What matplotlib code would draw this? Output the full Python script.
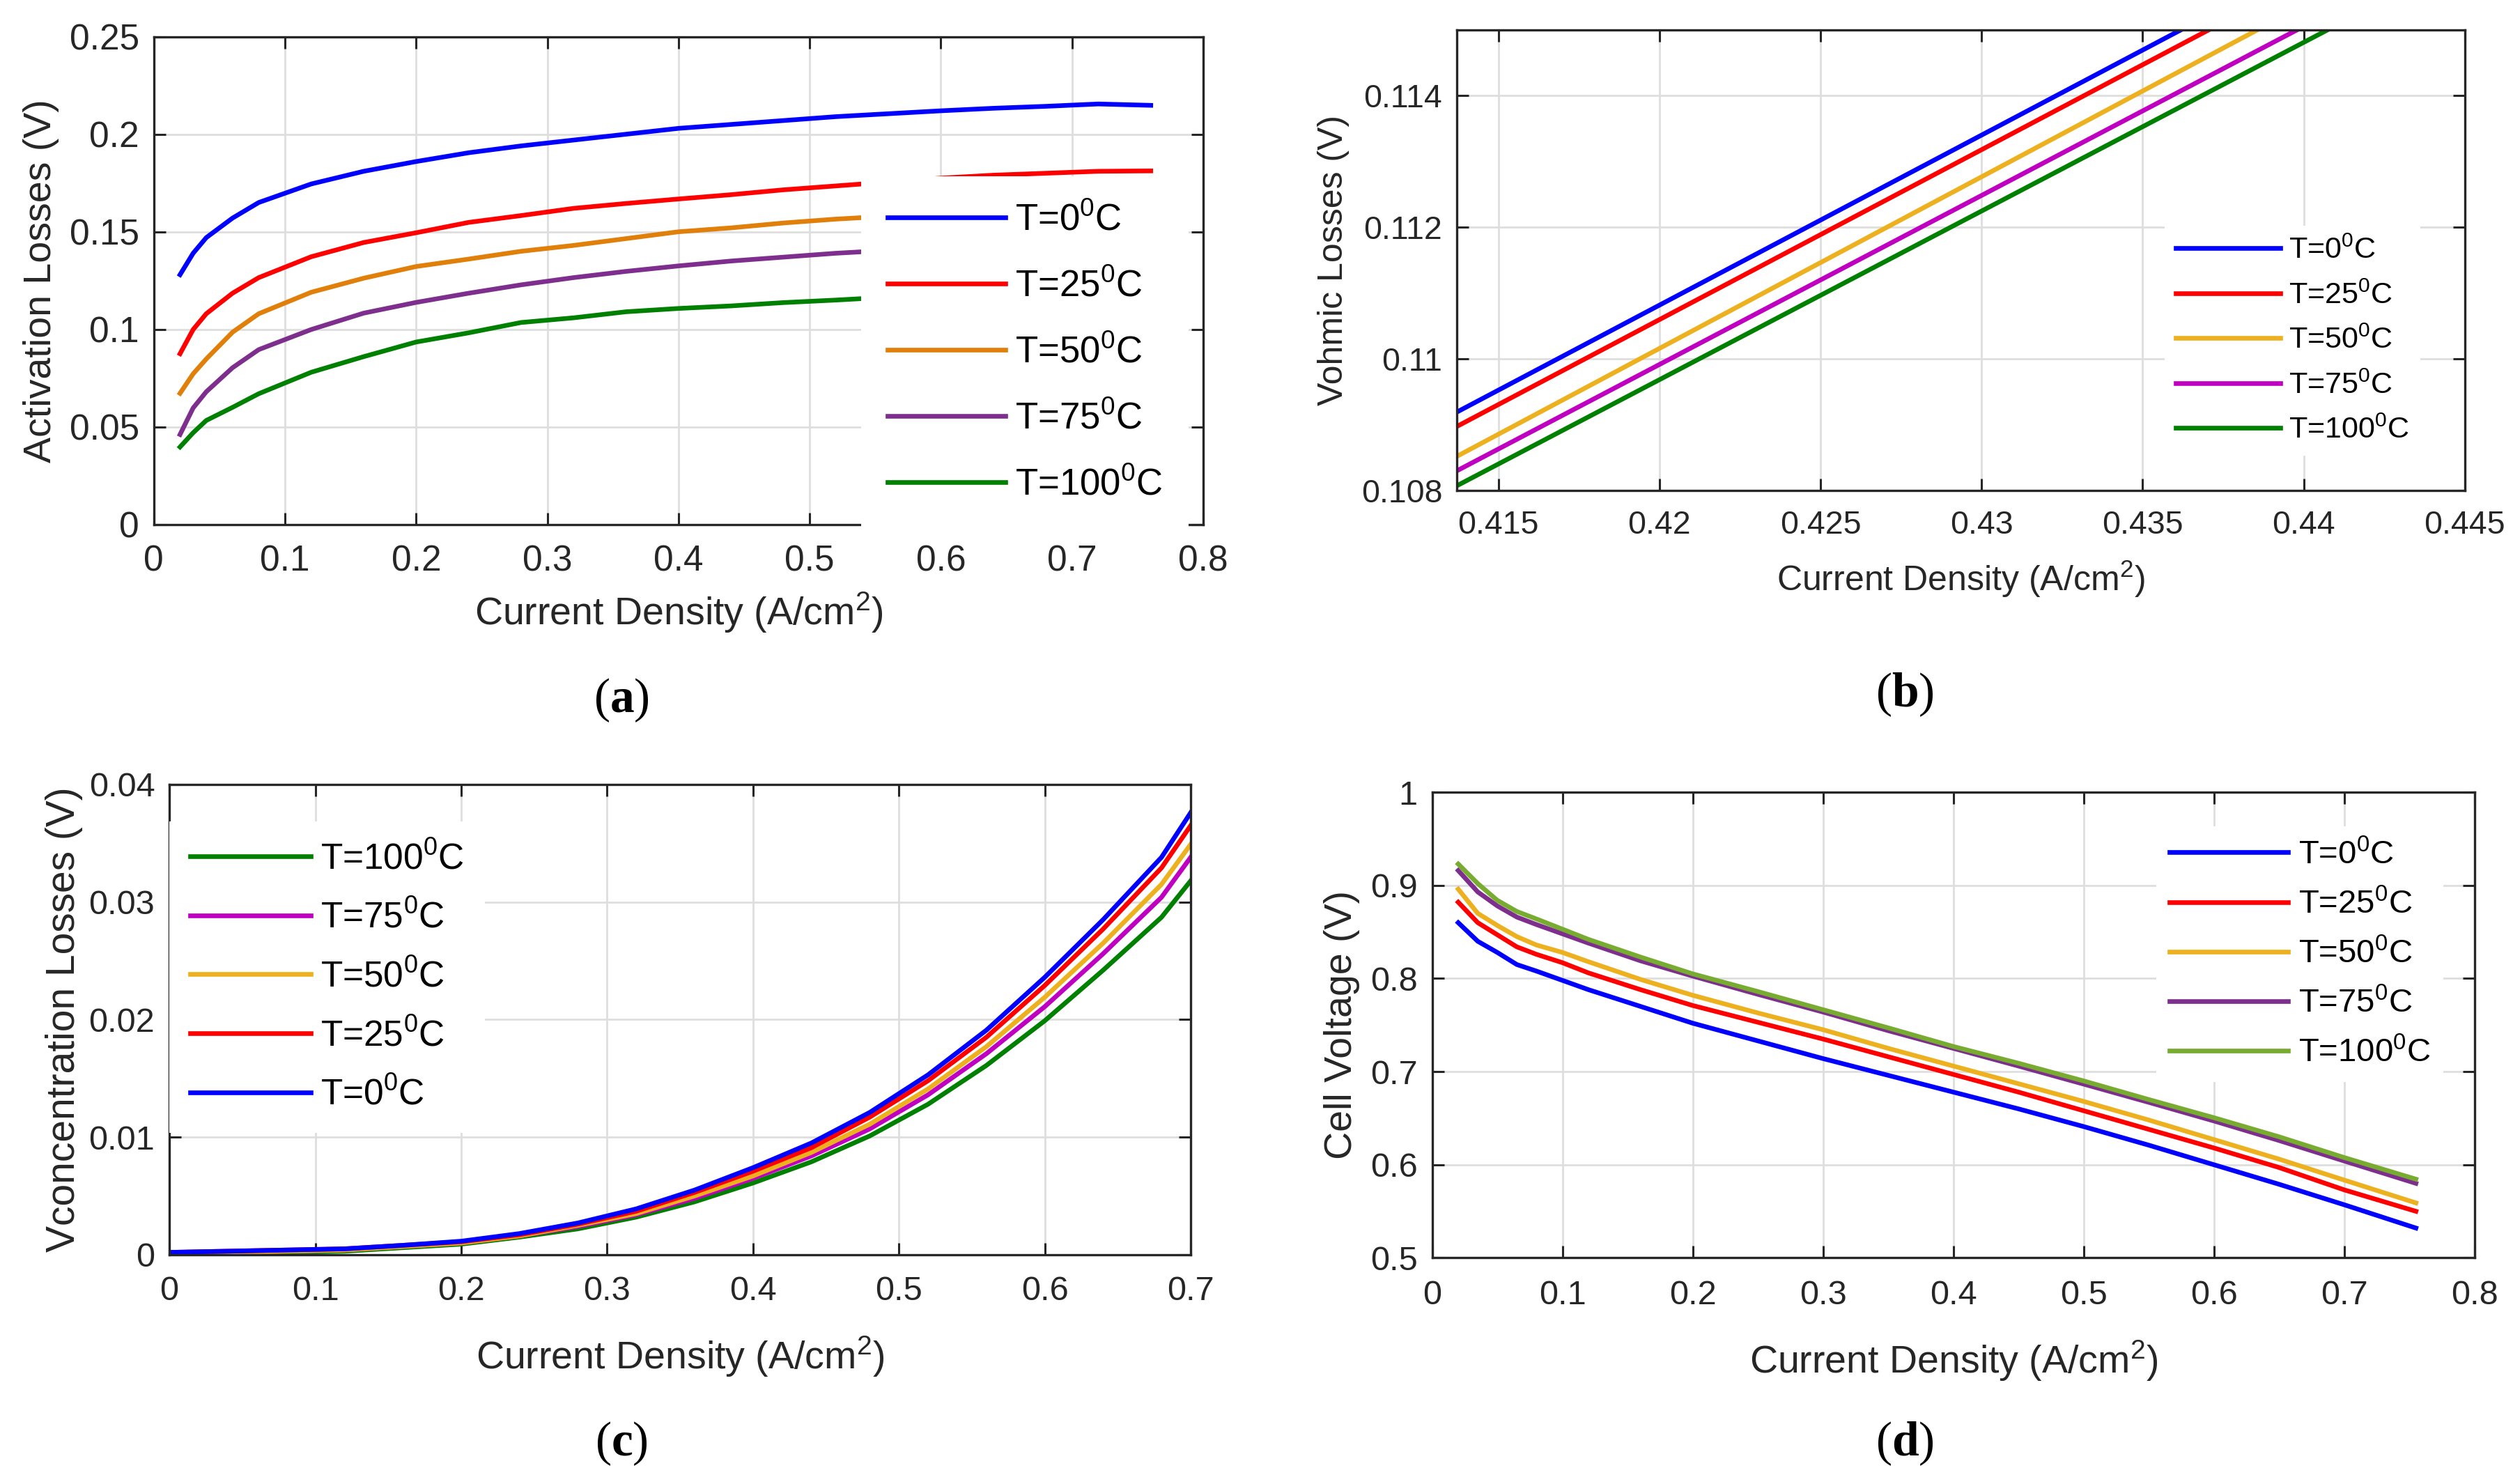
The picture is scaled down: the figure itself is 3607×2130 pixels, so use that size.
import numpy as np
import matplotlib
matplotlib.use("Agg")
import matplotlib.pyplot as plt
from matplotlib.ticker import FormatStrFormatter

plt.rcParams['font.family'] = ['Liberation Sans', 'DejaVu Sans']
plt.rcParams['mathtext.fontset'] = 'custom'
plt.rcParams['mathtext.rm'] = 'Liberation Sans'
plt.rcParams['mathtext.it'] = 'Liberation Sans:italic'
plt.rcParams['mathtext.bf'] = 'Liberation Serif:bold'

# ---------------- data ----------------
temps = ["0", "25", "50", "75", "100"]
labels = [r"T=%s$^\mathrm{0}$C" % t for t in temps]

# (a) activation losses
xa = [0.02, 0.03, 0.04, 0.06, 0.08, 0.12, 0.16, 0.2, 0.24, 0.28, 0.32, 0.36,
      0.4, 0.44, 0.48, 0.52, 0.56, 0.6, 0.64, 0.68, 0.72, 0.76]
act_T0 = [0.128, 0.139, 0.147, 0.157, 0.165, 0.1745, 0.181, 0.186, 0.1905, 0.194, 0.197,
          0.200, 0.203, 0.205, 0.207, 0.209, 0.2105, 0.212, 0.2133, 0.2143, 0.2155, 0.2148]
act_T25 = [0.0875, 0.0999, 0.108, 0.1185, 0.1265, 0.1372, 0.1445, 0.1495, 0.1548, 0.1583, 0.162,
           0.1645, 0.1668, 0.169, 0.1715, 0.1735, 0.1755, 0.1775, 0.179, 0.180, 0.181, 0.1812]
act_T50 = [0.0672, 0.0772, 0.0848, 0.0985, 0.108, 0.119, 0.1262, 0.1322, 0.136, 0.140, 0.143,
           0.1465, 0.150, 0.152, 0.1545, 0.1565, 0.158, 0.160, 0.1615, 0.163, 0.1645, 0.1655]
act_T75 = [0.0461, 0.0597, 0.068, 0.0803, 0.0896, 0.0999, 0.1083, 0.1138, 0.1185, 0.1228, 0.1265,
           0.1297, 0.1325, 0.135, 0.137, 0.139, 0.1405, 0.142, 0.1435, 0.145, 0.146, 0.147]
act_T100 = [0.0397, 0.047, 0.0533, 0.060, 0.067, 0.078, 0.086, 0.0935, 0.0982, 0.1035, 0.1059,
            0.109, 0.1107, 0.112, 0.1137, 0.115, 0.1165, 0.118, 0.119, 0.120, 0.121, 0.122]

# (b) ohmic losses (zoomed window)
xb = [0.41, 0.42, 0.43, 0.44, 0.45]
ohm_T0 = [0.108232, 0.110816, 0.113400, 0.115984, 0.118568]
ohm_T25 = [0.108014, 0.110596, 0.113178, 0.115760, 0.118342]
ohm_T50 = [0.107550, 0.110158, 0.112766, 0.115374, 0.117982]
ohm_T75 = [0.107345, 0.109914, 0.112483, 0.115052, 0.117621]
ohm_T100 = [0.107120, 0.109683, 0.112246, 0.114809, 0.117372]

# (c) concentration losses
xc = [0.0, 0.04, 0.08, 0.12, 0.16, 0.2, 0.24, 0.28, 0.32, 0.36, 0.4, 0.44,
      0.48, 0.52, 0.56, 0.6, 0.64, 0.68, 0.7]
con_T0 = [0.0002, 0.0003, 0.0004, 0.0005, 0.0008, 0.00115, 0.0018, 0.0027, 0.0039, 0.0055,
          0.0074, 0.0095, 0.0121, 0.0153, 0.0191, 0.0236, 0.0285, 0.0338, 0.0376]
con_T25 = [0.0002, 0.0003, 0.0004, 0.0005, 0.0008, 0.0011, 0.0017, 0.0026, 0.0037, 0.0053,
           0.0071, 0.0091, 0.0117, 0.0148, 0.0185, 0.0229, 0.0277, 0.0329, 0.0365]
con_T50 = [0.0001, 0.0002, 0.0003, 0.0004, 0.0007, 0.0010, 0.0016, 0.0025, 0.0035, 0.0050,
           0.0067, 0.0087, 0.0111, 0.0141, 0.0177, 0.0219, 0.0265, 0.0315, 0.0349]
con_T75 = [0.0001, 0.0002, 0.0003, 0.0004, 0.0007, 0.0010, 0.0016, 0.0024, 0.0034, 0.0048,
           0.0065, 0.0084, 0.0107, 0.0136, 0.0171, 0.0211, 0.0256, 0.0304, 0.0338]
con_T100 = [0.0000, 0.0001, 0.0002, 0.0003, 0.0006, 0.0009, 0.0015, 0.0022, 0.0032, 0.0045,
            0.0061, 0.0079, 0.0101, 0.0128, 0.0161, 0.0199, 0.0242, 0.0287, 0.0318]

# (d) cell voltage
xd = [0.02, 0.035, 0.05, 0.065, 0.08, 0.1, 0.12, 0.16, 0.2, 0.25, 0.3, 0.35,
      0.4, 0.45, 0.5, 0.55, 0.6, 0.65, 0.7, 0.755]
v_T0 = [0.860, 0.840, 0.828, 0.815, 0.808, 0.798, 0.788, 0.770, 0.752, 0.733, 0.714, 0.696,
        0.678, 0.660, 0.641, 0.621, 0.600, 0.579, 0.557, 0.532]
v_T25 = [0.882, 0.860, 0.847, 0.834, 0.826, 0.817, 0.806, 0.788, 0.771, 0.753, 0.735, 0.716,
         0.697, 0.678, 0.658, 0.638, 0.618, 0.597, 0.573, 0.550]
v_T50 = [0.896, 0.870, 0.857, 0.845, 0.836, 0.828, 0.818, 0.799, 0.782, 0.763, 0.745, 0.725,
         0.706, 0.687, 0.668, 0.648, 0.627, 0.606, 0.5835, 0.559]
v_T75 = [0.916, 0.893, 0.878, 0.866, 0.858, 0.848, 0.838, 0.819, 0.8026, 0.783, 0.764, 0.744,
         0.725, 0.706, 0.6866, 0.667, 0.647, 0.626, 0.604, 0.580]
v_T100 = [0.923, 0.902, 0.884, 0.872, 0.864, 0.853, 0.842, 0.823, 0.805, 0.786, 0.7665, 0.747,
          0.727, 0.709, 0.690, 0.670, 0.6505, 0.630, 0.6077, 0.5845]

# ---------------- styling ----------------
col_a = ['#0000FF', '#FF0000', '#E0800A', '#7E2F8E', '#008000']
col_b = ['#0000FF', '#FF0000', '#EDB120', '#C000C0', '#008000']
col_c = ['#0000FF', '#FF0000', '#EDB120', '#C000C0', '#008000']
col_d = ['#0000FF', '#FF0000', '#EDB120', '#7E2F8E', '#77AC30']

DARK = '#262626'
LW = 4.8
XLAB = r'Current Density (A/cm$^\mathrm{2}$)'

fig = plt.figure(figsize=(36.07, 21.30), dpi=100)


def style_axes(ax, tickfs, xpad):
    ax.set_axisbelow(True)
    ax.grid(True, color='#DEDEDE', lw=2.0)
    for s in ax.spines.values():
        s.set_color(DARK)
        s.set_linewidth(2.4)
    ax.tick_params(direction='in', length=12, width=2.2, colors=DARK,
                   labelsize=tickfs, top=True, right=True)
    ax.tick_params(axis='x', pad=xpad)
    ax.tick_params(axis='y', pad=15)
    ax.xaxis.set_major_formatter(FormatStrFormatter('%g'))
    ax.yaxis.set_major_formatter(FormatStrFormatter('%g'))


def add_legend(ax, handles, fs, hl, htp, ls, bp, anchor, loc='upper left'):
    leg = ax.legend(handles=handles, loc=loc, bbox_to_anchor=anchor,
                    fontsize=fs, handlelength=hl, handletextpad=htp,
                    labelspacing=ls, borderpad=bp, borderaxespad=0,
                    frameon=True, fancybox=False, framealpha=1,
                    facecolor='white', edgecolor='none')
    leg.get_frame().set_linewidth(0)
    return leg


# (a)
axa = fig.add_axes([0.0612, 0.6466, 0.4176, 0.3287])
style_axes(axa, 37, 21)
ha = []
for y, c, lab in zip([act_T0, act_T25, act_T50, act_T75, act_T100], col_a, labels):
    ha.append(axa.plot(xa, y, color=c, lw=LW, label=lab)[0])
axa.set_xlim(0, 0.8)
axa.set_ylim(0, 0.25)
axa.set_xticks(np.arange(0, 0.81, 0.1))
axa.set_yticks(np.arange(0, 0.251, 0.05))
axa.set_xlabel(XLAB, fontsize=40, color=DARK, labelpad=12)
axa.set_ylabel('Activation Losses (V)', fontsize=40, color=DARK, labelpad=11)
add_legend(axa, ha, 38, 3.2, 0.26, 0.85, 0.72, (0.674, 0.714))

# (b)
axb = fig.add_axes([0.5797, 0.6695, 0.4011, 0.3104])
style_axes(axb, 33.5, 20)
hb = []
for y, c, lab in zip([ohm_T0, ohm_T25, ohm_T50, ohm_T75, ohm_T100], col_b, labels):
    hb.append(axb.plot(xb, y, color=c, lw=LW, label=lab)[0])
axb.set_xlim(0.41371, 0.445)
axb.set_ylim(0.108, 0.115)
axb.set_xticks(np.arange(0.415, 0.4451, 0.005))
axb.set_yticks([0.108, 0.110, 0.112, 0.114])
axb.set_xlabel(XLAB, fontsize=36, color=DARK, labelpad=19)
axb.set_ylabel('Vohmic Losses (V)', fontsize=36, color=DARK, labelpad=12)
add_legend(axb, hb, 31, 3.5, 0.27, 0.56, 0.37, (0.702, 0.575))

# (c)
axc = fig.add_axes([0.0674, 0.1545, 0.4064, 0.3169])
style_axes(axc, 35, 22)
hc = []
for y, c, lab in zip([con_T100, con_T75, con_T50, con_T25, con_T0], col_c[::-1], labels[::-1]):
    hc.append(axc.plot(xc, y, color=c, lw=LW, label=lab)[0])
axc.set_xlim(0, 0.7)
axc.set_ylim(0, 0.04)
axc.set_xticks(np.arange(0, 0.71, 0.1))
axc.set_yticks(np.arange(0, 0.041, 0.01))
axc.set_xlabel(XLAB, fontsize=40, color=DARK, labelpad=28)
axc.set_ylabel('Vconcentration Losses (V)', fontsize=41, color=DARK, labelpad=6)
add_legend(axc, hc, 37, 3.37, 0.27, 0.68, 0.58, (0.0, 0.922))

# (d)
axd = fig.add_axes([0.5699, 0.1524, 0.4148, 0.3137])
style_axes(axd, 35, 23)
hd = []
for y, c, lab in zip([v_T0, v_T25, v_T50, v_T75, v_T100], col_d, labels):
    hd.append(axd.plot(xd, y, color=c, lw=LW, label=lab)[0])
axd.set_xlim(0, 0.8)
axd.set_ylim(0.5, 1.0)
axd.set_xticks(np.arange(0, 0.81, 0.1))
axd.set_yticks(np.arange(0.5, 1.01, 0.1))
axd.set_xlabel(XLAB, fontsize=40, color=DARK, labelpad=28)
axd.set_ylabel('Cell Voltage (V)', fontsize=40, color=DARK, labelpad=11)
add_legend(axd, hd, 34, 3.6, 0.30, 0.55, 0.40, (0.695, 0.927))

# panel labels
for x, y, t in [(0.2474, 0.528, 'a'), (0.758, 0.532, 'b'),
                (0.2474, 0.027, 'c'), (0.758, 0.027, 'd')]:
    fig.text(x, y, r'($\mathbf{%s}$)' % t, fontsize=50, ha='center', va='center',
             family=['Liberation Serif', 'DejaVu Serif'], color='black')

fig.savefig('out.png', dpi=100, facecolor='white')
